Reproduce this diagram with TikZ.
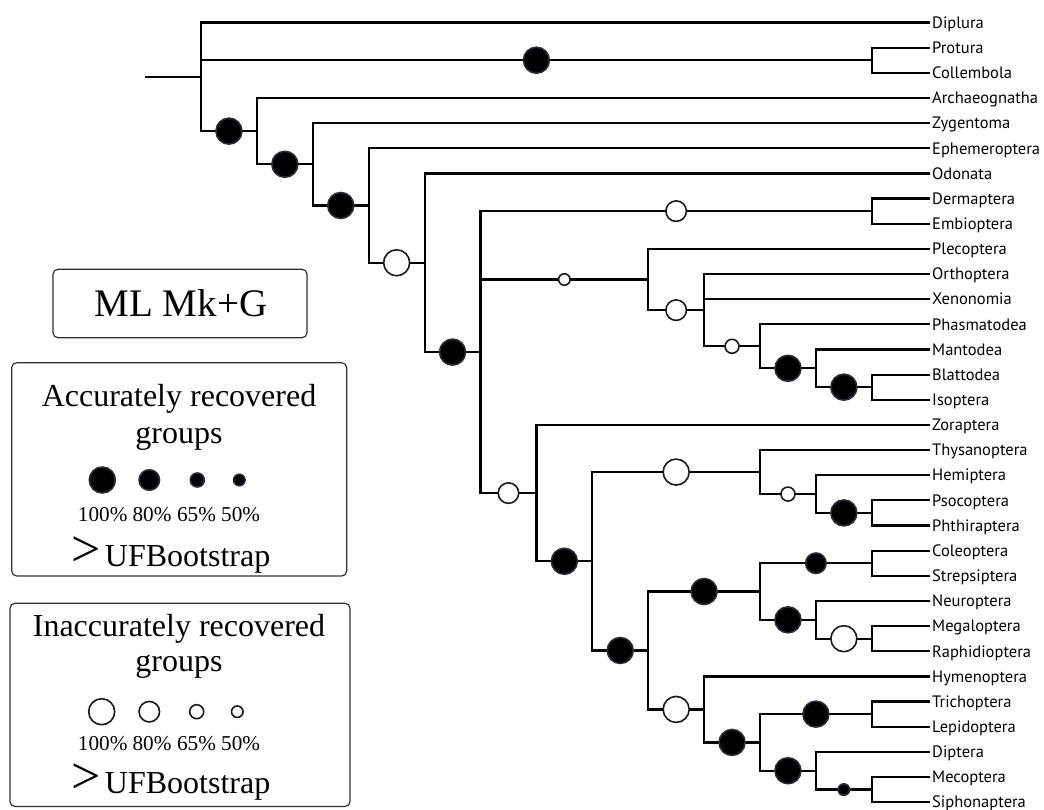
\documentclass[tikz,border=0pt]{standalone}
\usepackage{fontspec}
\setmainfont{Liberation Serif}
\newfontfamily\taxonfont{PT Sans}
\usetikzlibrary{positioning}
\definecolor{dotrim}{RGB}{45,43,58}
\definecolor{boxrim}{RGB}{50,50,50}

\begin{document}
\begin{tikzpicture}[x=1pt,y=-1pt]
		\tikzset{branch/.style={line width=2.2pt}}
		\tikzset{taxon/.style={anchor=west,inner xsep=2pt,inner ysep=0pt,text height=11.5pt,text depth=0pt,font=\taxonfont\fontsize{16.5}{19}\selectfont}}
		\tikzset{accdot/.style={circle,inner sep=0pt,draw=dotrim,fill=black,line width=1.6pt}}
		\tikzset{inaccdot/.style={circle,inner sep=0pt,draw=black!90,fill=white,line width=1.6pt}}
		\tikzset{s100/.style={minimum size=26pt}}
		\tikzset{s80/.style={minimum size=20.5pt}}
		\tikzset{s65/.style={minimum size=14pt}}
		\tikzset{s50/.style={minimum size=11.5pt}}
		\tikzset{legendbox/.style={draw=boxrim,line width=1.2pt,rounded corners=5pt}}
		\tikzset{legtitle/.style={anchor=base,inner sep=0pt,font=\fontsize{32}{36}\selectfont}}
		\tikzset{legpct/.style={anchor=base,inner sep=0pt,font=\fontsize{21.2}{24}\selectfont}}
		
		\useasboundingbox (0,0) rectangle (1044,809);
		
		\newcommand\drawTaxon[3] % {row} {label} {name}
		{
			\node[taxon] at (930, {22.5+25.15*#1}) (#3) {#2};
		}
		
		\newcommand\drawSupport[4] % {parent} {child} {dot style} {name}
		{
			\draw[branch] (#1) |- node[pos=.75, #3] (#4) {} (#2);
		}
		
		\newcommand\bigGt{{\fontsize{52}{52}\selectfont >}\hspace{4pt}}
		
		\drawTaxon{0}{Diplura}{tDipl}
		\drawTaxon{1}{Protura}{tProt}
		\drawTaxon{2}{Collembola}{tColl}
		\drawTaxon{3}{Archaeognatha}{tArch}
		\drawTaxon{4}{Zygentoma}{tZyg}
		\drawTaxon{5}{Ephemeroptera}{tEph}
		\drawTaxon{6}{Odonata}{tOdo}
		\drawTaxon{7}{Dermaptera}{tDerm}
		\drawTaxon{8}{Embioptera}{tEmb}
		\drawTaxon{9}{Plecoptera}{tPlec}
		\drawTaxon{10}{Orthoptera}{tOrth}
		\drawTaxon{11}{Xenonomia}{tXen}
		\drawTaxon{12}{Phasmatodea}{tPhas}
		\drawTaxon{13}{Mantodea}{tMant}
		\drawTaxon{14}{Blattodea}{tBlat}
		\drawTaxon{15}{Isoptera}{tIso}
		\drawTaxon{16}{Zoraptera}{tZor}
		\drawTaxon{17}{Thysanoptera}{tThys}
		\drawTaxon{18}{Hemiptera}{tHem}
		\drawTaxon{19}{Psocoptera}{tPsoc}
		\drawTaxon{20}{Phthiraptera}{tPhth}
		\drawTaxon{21}{Coleoptera}{tCol}
		\drawTaxon{22}{Strepsiptera}{tStr}
		\drawTaxon{23}{Neuroptera}{tNeu}
		\drawTaxon{24}{Megaloptera}{tMeg}
		\drawTaxon{25}{Raphidioptera}{tRaph}
		\drawTaxon{26}{Hymenoptera}{tHym}
		\drawTaxon{27}{Trichoptera}{tTri}
		\drawTaxon{28}{Lepidoptera}{tLep}
		\drawTaxon{29}{Diptera}{tDip}
		\drawTaxon{30}{Mecoptera}{tMec}
		\drawTaxon{31}{Siphonaptera}{tSiph}
		
		% internal nodes: x = 201 + 55.9*level, y = middle of children
		\coordinate (stub) at (145, 76.8);
		\coordinate (root) at (201, 76.8);
		\coordinate (ellip) at (871.8, 60.23);
		\coordinate (insecta) at (256.9, 131.13);
		\coordinate (dicon) at (312.8, 164.3);
		\coordinate (ptery) at (368.7, 205.5);
		\coordinate (metapt) at (424.6, 262.75);
		\coordinate (neopt) at (480.5, 352.1);
		\coordinate (dermEmb) at (871.8, 211.13);
		\coordinate (polyA) at (648.2, 279.5);
		\coordinate (polyB) at (704.1, 310.15);
		\coordinate (polyC) at (760, 346.31);
		\coordinate (dicty) at (815.9, 368.31);
		\coordinate (blatIso) at (871.8, 387.18);
		\coordinate (paraneo) at (536.4, 493.08);
		\coordinate (eumet) at (592.3, 561.26);
		\coordinate (acer) at (760, 472.06);
		\coordinate (hemPso) at (815.9, 494.06);
		\coordinate (psoPhth) at (871.8, 512.93);
		\coordinate (holo) at (648.2, 650.47);
		\coordinate (neurCol) at (760, 591.52);
		\coordinate (colStr) at (871.8, 563.23);
		\coordinate (neurop) at (815.9, 619.81);
		\coordinate (megRap) at (871.8, 638.68);
		\coordinate (hymRest) at (704.1, 709.41);
		\coordinate (panorp) at (760, 742.42);
		\coordinate (triLep) at (871.8, 714.13);
		\coordinate (antl) at (815.9, 770.71);
		\coordinate (mecSiph) at (871.8, 789.58);
		
		\draw[branch] (stub) -- (root);
		
		\draw[branch]
		(root) |- (tDipl.west)
		(ellip) |- (tProt.west)
		(ellip) |- (tColl.west)
		(insecta) |- (tArch.west)
		(dicon) |- (tZyg.west)
		(ptery) |- (tEph.west)
		(metapt) |- (tOdo.west)
		(dermEmb) |- (tDerm.west)
		(dermEmb) |- (tEmb.west)
		(polyA) |- (tPlec.west)
		(polyB) |- (tOrth.west)
		(polyB) |- (tXen.west)
		(polyC) |- (tPhas.west)
		(dicty) |- (tMant.west)
		(blatIso) |- (tBlat.west)
		(blatIso) |- (tIso.west)
		(paraneo) |- (tZor.west)
		(acer) |- (tThys.west)
		(hemPso) |- (tHem.west)
		(psoPhth) |- (tPsoc.west)
		(psoPhth) |- (tPhth.west)
		(colStr) |- (tCol.west)
		(colStr) |- (tStr.west)
		(neurop) |- (tNeu.west)
		(megRap) |- (tMeg.west)
		(megRap) |- (tRaph.west)
		(hymRest) |- (tHym.west)
		(triLep) |- (tTri.west)
		(triLep) |- (tLep.west)
		(antl) |- (tDip.west)
		(mecSiph) |- (tMec.west)
		(mecSiph) |- (tSiph.west);
		
		\drawSupport{root}{ellip}{accdot,s100}{dEllip}
		\drawSupport{root}{insecta}{accdot,s100}{dInsecta}
		\drawSupport{insecta}{dicon}{accdot,s100}{dDicon}
		\drawSupport{dicon}{ptery}{accdot,s100}{dPtery}
		\drawSupport{ptery}{metapt}{inaccdot,s100}{dMetapt}
		\drawSupport{metapt}{neopt}{accdot,s100}{dNeopt}
		\drawSupport{neopt}{dermEmb}{inaccdot,s80}{dDermEmb}
		\drawSupport{neopt}{polyA}{inaccdot,s50}{dPolyA}
		\drawSupport{polyA}{polyB}{inaccdot,s80}{dPolyB}
		\drawSupport{polyB}{polyC}{inaccdot,s65}{dPolyC}
		\drawSupport{polyC}{dicty}{accdot,s100}{dDicty}
		\drawSupport{dicty}{blatIso}{accdot,s100}{dBlatIso}
		\drawSupport{neopt}{paraneo}{inaccdot,s80}{dParaneo}
		\drawSupport{paraneo}{eumet}{accdot,s100}{dEumet}
		\drawSupport{eumet}{acer}{inaccdot,s100}{dAcer}
		\drawSupport{acer}{hemPso}{inaccdot,s65}{dHemPso}
		\drawSupport{hemPso}{psoPhth}{accdot,s100}{dPsoPhth}
		\drawSupport{eumet}{holo}{accdot,s100}{dHolo}
		\drawSupport{holo}{neurCol}{accdot,s100}{dNeurCol}
		\drawSupport{neurCol}{colStr}{accdot,s80}{dColStr}
		\drawSupport{neurCol}{neurop}{accdot,s100}{dNeurop}
		\drawSupport{neurop}{megRap}{inaccdot,s100}{dMegRap}
		\drawSupport{holo}{hymRest}{inaccdot,s100}{dHymRest}
		\drawSupport{hymRest}{panorp}{accdot,s100}{dPanorp}
		\drawSupport{panorp}{triLep}{accdot,s100}{dTriLep}
		\drawSupport{panorp}{antl}{accdot,s100}{dAntl}
		\drawSupport{antl}{mecSiph}{accdot,s50}{dMecSiph}
		
		% legend
		\draw[legendbox] (53,269.3) rectangle (307,337.7);
		\node[anchor=base,inner sep=0pt,font=\fontsize{39}{44}\selectfont] (model) at (181,316.7) {ML Mk+G};
		
		\draw[legendbox] (11.7,362.7) rectangle (346.7,576);
		\node[legtitle] (accA) at (179,406.7) {Accurately recovered};
		\node[legtitle] (accB) at (179,443.3) {groups};
		\node[accdot,s100] (acc100) at (102.3,480) {};
		\node[accdot,s80] (acc80) at (149.3,480) {};
		\node[accdot,s65] (acc65) at (197.3,480) {};
		\node[accdot,s50] (acc50) at (239.3,480) {};
		\node[legpct] at (102.7,521.7) (accP100) {100\%};
		\node[legpct] at (152,521.7) (accP80) {80\%};
		\node[legpct] at (196.5,521.7) (accP65) {65\%};
		\node[legpct] at (240.6,521.7) (accP50) {50\%};
		\node[legtitle] (accUF) at (171,566) {\bigGt UFBootstrap};
		
		\draw[legendbox] (10,603.3) rectangle (350,806.5);
		\node[legtitle] (inaA) at (179,636.7) {Inaccurately recovered};
		\node[legtitle] (inaB) at (179,671.7) {groups};
		\node[inaccdot,s100] (ina100) at (101.7,711.7) {};
		\node[inaccdot,s80] (ina80) at (149.3,711.7) {};
		\node[inaccdot,s65] (ina65) at (196.7,711.7) {};
		\node[inaccdot,s50] (ina50) at (237.3,711.7) {};
		\node[legpct] at (102.7,750) (inaP100) {100\%};
		\node[legpct] at (152,750) (inaP80) {80\%};
		\node[legpct] at (196.5,750) (inaP65) {65\%};
		\node[legpct] at (240.6,750) (inaP50) {50\%};
		\node[legtitle] (inaUF) at (171,793.3) {\bigGt UFBootstrap};
		
\end{tikzpicture}
\end{document}
